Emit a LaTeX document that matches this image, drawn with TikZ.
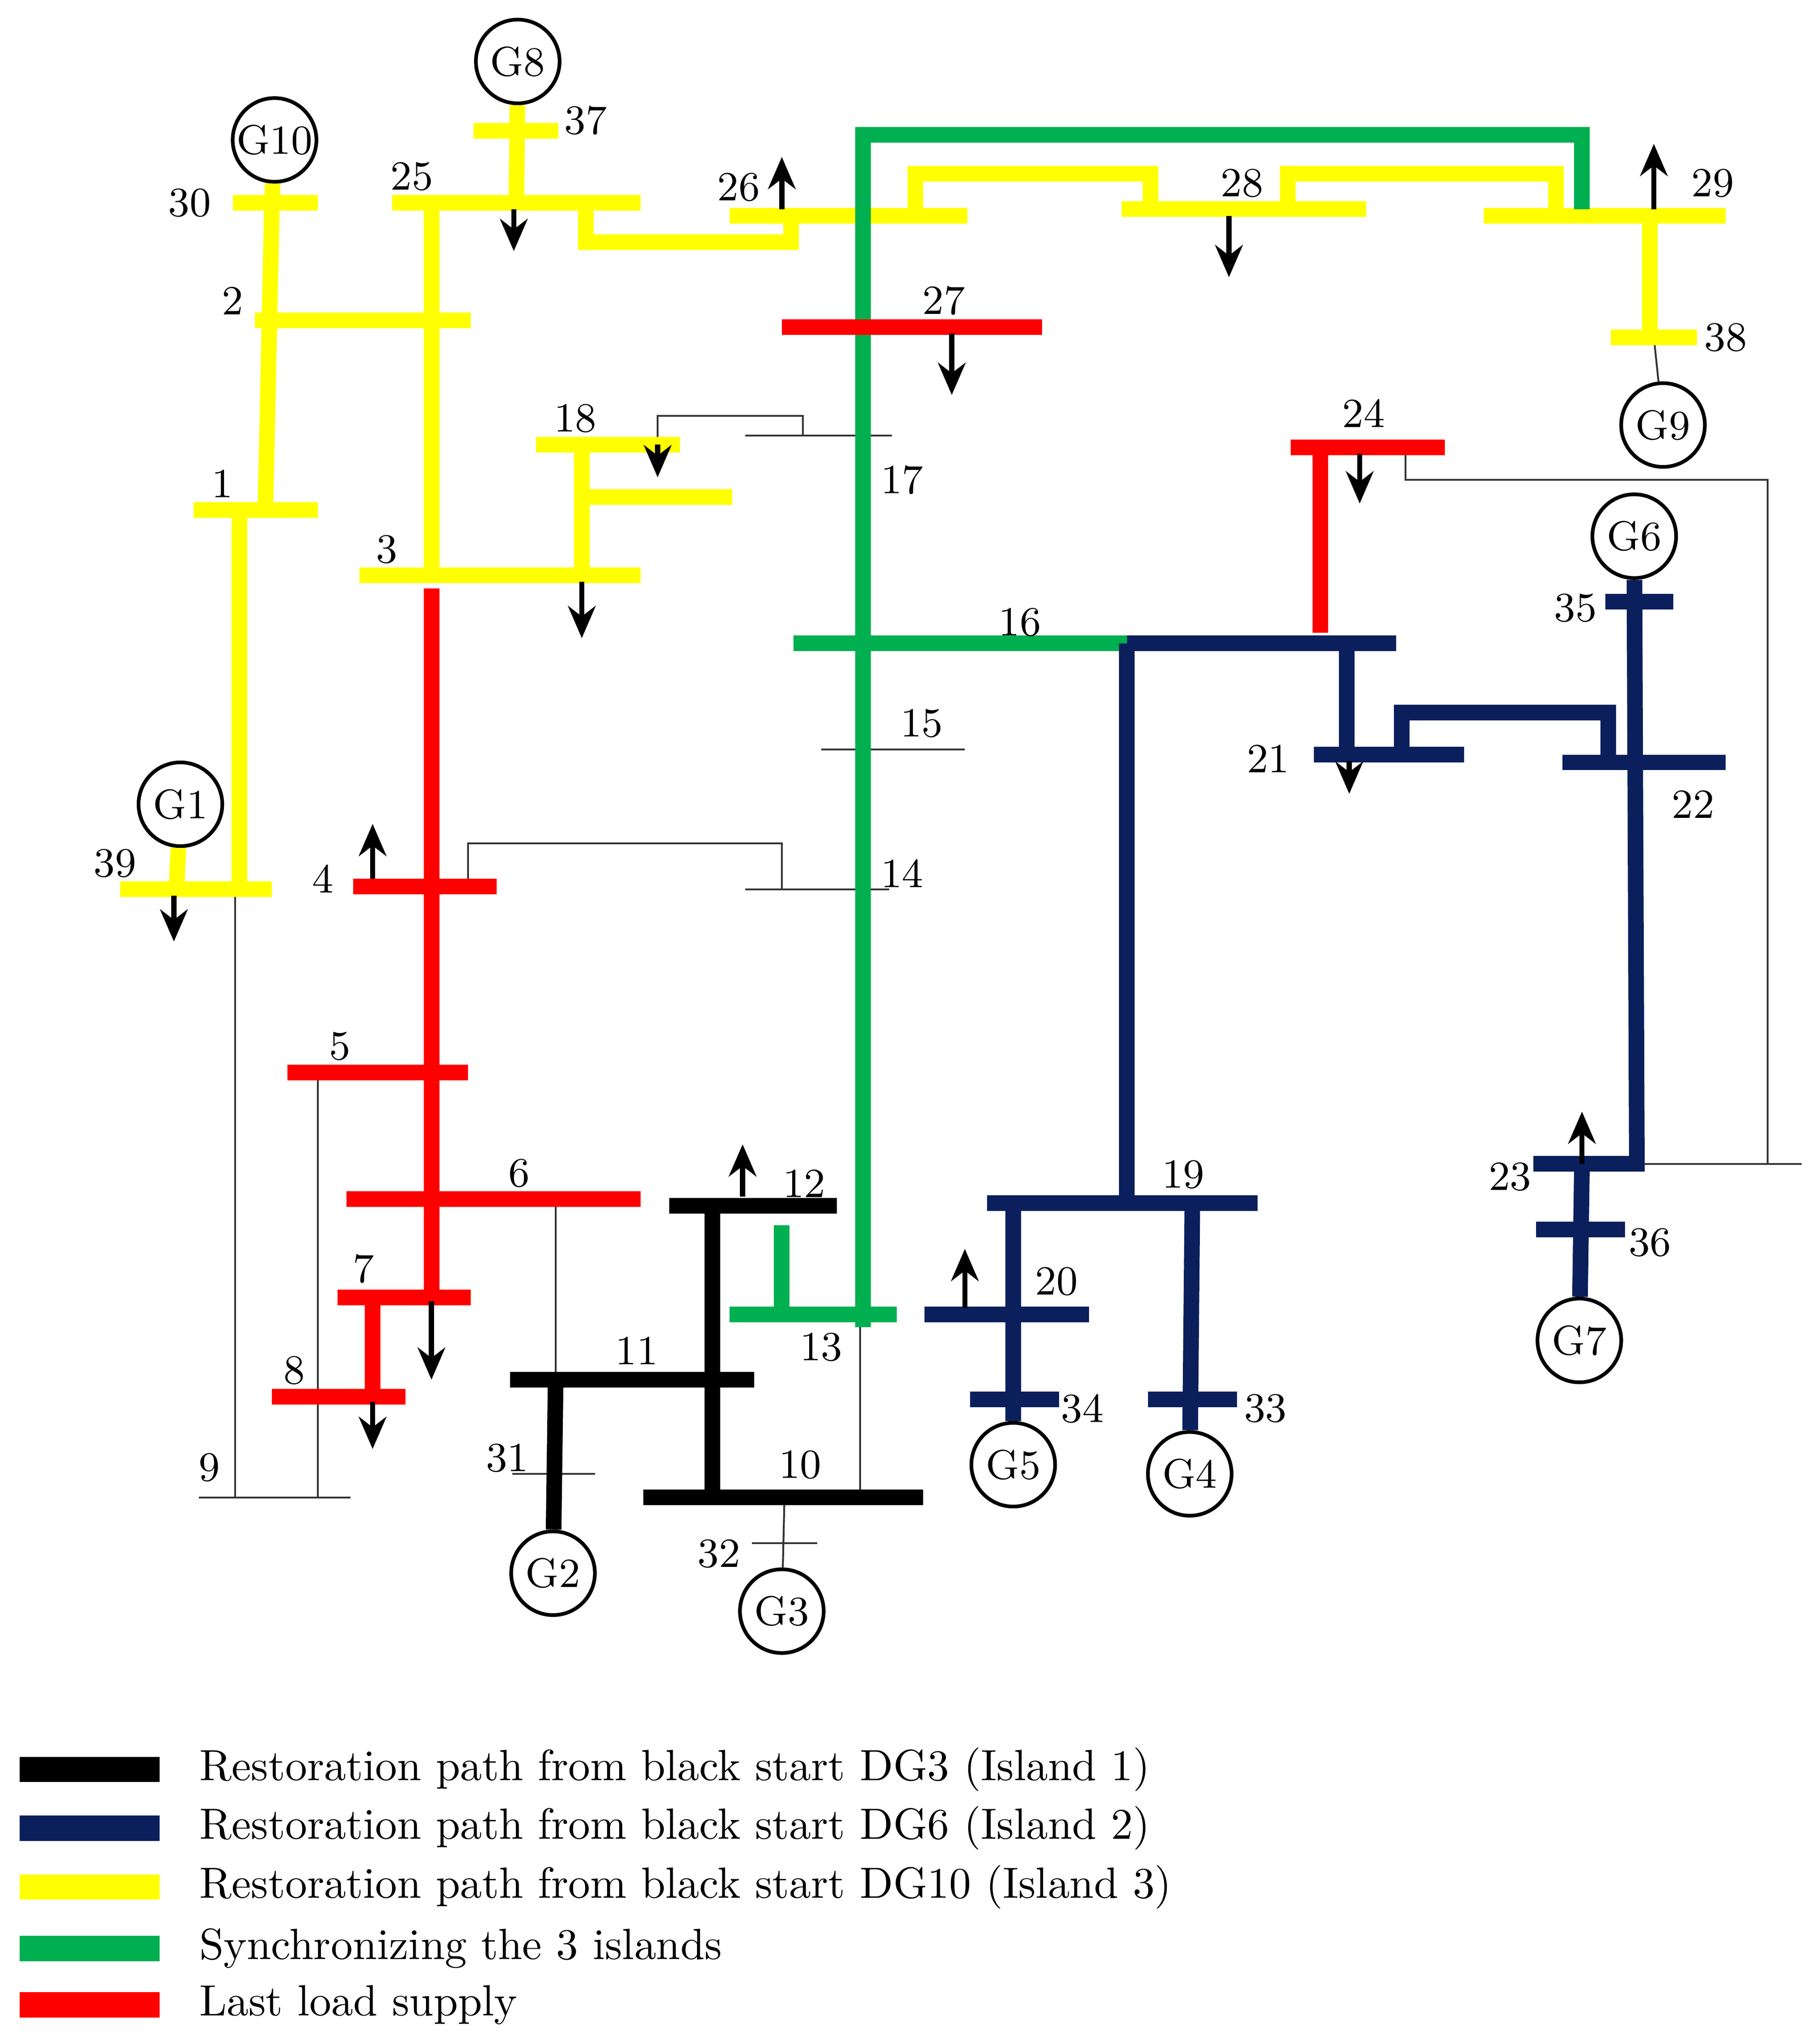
\documentclass[tikz,border=0pt]{standalone}
\usepackage{tikz}
\usetikzlibrary{positioning,arrows.meta}
\definecolor{ylw}{RGB}{255,255,0}
\definecolor{grn}{RGB}{0,176,80}
\definecolor{nvy}{RGB}{10,31,92}
\definecolor{rd}{RGB}{255,0,0}
\tikzset{
  bus/.style = {line width=3.4pt},
  Y/.style = {bus, draw=ylw},
  R/.style = {bus, draw=rd},
  N/.style = {bus, draw=nvy},
  K/.style = {bus, draw=black},
  Gr/.style = {bus, draw=grn},
  thin/.style = {line width=0.4pt, draw=black!80},
  load/.style = {-{Stealth[length=7pt,width=6pt]}, line width=1.1pt},
  gen/.style = {circle, draw, line width=0.8pt, minimum size=0.64cm, inner sep=0pt,
                font=\fontsize{9}{10}\selectfont},
  lbl/.style = {font=\fontsize{9}{10}\selectfont, inner sep=0pt},
  leg/.style = {font=\fontsize{9.5}{11}\selectfont, anchor=west, inner sep=0pt}
}
\begin{document}
\begin{tikzpicture}[x=0.01cm, y=-0.01cm]
\useasboundingbox (0,0) rectangle (1385,1563);
% generators
\node[gen] (G10) at (210,107) {G10};
\node[gen] (G8) at (396,47) {G8};
\node[gen] (G1) at (138,615) {G1};
\node[gen] (G9) at (1272,325) {G9};
\node[gen] (G6) at (1250,410) {G6};
\node[gen] (G7) at (1208,1025) {G7};
\node[gen] (G5) at (775,1120) {G5};
\node[gen] (G4) at (910,1127) {G4};
\node[gen] (G2) at (423,1203) {G2};
\node[gen] (G3) at (598,1232) {G3};
% thin lines
\draw[thin] (614,333) |- (503,318) -- (503,340);
\draw[thin] (570,333) -- (682,333);
\draw[thin] (628,573) -- (738,573);
\draw[thin] (570,680) -- (680,680);
\draw[thin] (598,680) |- (358,645) -- (358,680);
\draw[thin] (243,820) -- (243,1145);
\draw[thin] (180,680) -- (180,1145);
\draw[thin] (152,1145) -- (268,1145);
\draw[thin] (425,917) -- (425,1055);
\draw[thin] (658,1005) -- (658,1145);
\draw[thin] (392,1127) -- (455,1127);
\draw[thin] (600,1145) -- (G3);
\draw[thin] (575,1180) -- (625,1180);
\draw[thin] (1265,258) -- (G9);
\draw[thin] (1075,342) |- (1352,367) |- (1258,890);
\draw[thin] (1352,890) -- (1378,890);
% island 3 (yellow)
\draw[Y] (G10) -- (208,155);
\draw[Y] (178,155) -- (243,155);
\draw[Y] (208,155) -- (203,390);
\draw[Y] (195,245) -- (360,245);
\draw[Y] (148,390) -- (243,390);
\draw[Y] (183,390) -- (183,680);
\draw[Y] (92,680) -- (208,680);
\draw[Y] (G1) -- (135,680);
\draw[Y] (300,155) -- (490,155);
\draw[Y] (330,155) -- (330,440);
\draw[Y] (G8) -- (395,155);
\draw[Y] (362,100) -- (427,100);
\draw[Y] (275,440) -- (490,440);
\draw[Y] (445,440) -- (445,340);
\draw[Y] (410,340) -- (520,340);
\draw[Y] (445,380) -- (560,380);
\draw[Y] (448,155) |- (605,185) -- (605,165);
\draw[Y] (558,165) -- (740,165);
\draw[Y] (700,165) |- (880,133) -- (880,160);
\draw[Y] (858,160) -- (1045,160);
\draw[Y] (985,160) |- (1190,133) -- (1190,165);
\draw[Y] (1135,165) -- (1320,165);
\draw[Y] (1262,165) -- (1262,258);
\draw[Y] (1232,258) -- (1298,258);
% synchronizing (green)
\draw[Gr] (660,1015) -- (660,103) -- (1210,103) -- (1210,160);
\draw[Gr] (607,492) -- (862,492);
\draw[Gr] (598,937) -- (598,1000);
\draw[Gr] (558,1005) -- (686,1005);
% last load supply (red)
\draw[R] (598,250) -- (797,250);
\draw[R] (330,450) -- (330,992);
\draw[R] (270,678) -- (380,678);
\draw[R] (220,820) -- (358,820);
\draw[R] (265,917) -- (490,917);
\draw[R] (258,992) -- (360,992);
\draw[R] (285,992) -- (285,1068);
\draw[R] (208,1068) -- (310,1068);
\draw[R] (1010,342) -- (1010,484);
\draw[R] (987,342) -- (1105,342);
% island 1 (black)
\draw[K] (512,922) -- (640,922);
\draw[K] (545,922) -- (545,1145);
\draw[K] (390,1055) -- (577,1055);
\draw[K] (425,1055) -- (G2);
\draw[K] (492,1145) -- (706,1145);
% island 2 (navy)
\draw[N] (862,492) -- (1068,492);
\draw[N] (862,492) -- (862,920);
\draw[N] (755,920) -- (962,920);
\draw[N] (775,920) -- (G5);
\draw[N] (707,1005) -- (833,1005);
\draw[N] (742,1070) -- (810,1070);
\draw[N] (912,920) -- (G4);
\draw[N] (878,1070) -- (946,1070);
\draw[N] (1030,492) -- (1030,577);
\draw[N] (1005,577) -- (1120,577);
\draw[N] (1072,577) |- (1230,545) -- (1230,583);
\draw[N] (1195,583) -- (1320,583);
\draw[N] (G6) -- (1252,890);
\draw[N] (1228,460) -- (1280,460);
\draw[N] (1173,890) -- (1258,890);
\draw[N] (1210,890) -- (G7);
\draw[N] (1175,940) -- (1243,940);
% loads
\draw[load] (393,160) -- (393,192);
\draw[load] (598,160) -- (598,120);
\draw[load] (940,165) -- (940,212);
\draw[load] (1265,160) -- (1265,110);
\draw[load] (728,255) -- (728,302);
\draw[load] (503,340) -- (503,365);
\draw[load] (445,445) -- (445,488);
\draw[load] (133,685) -- (133,720);
\draw[load] (285,672) -- (285,630);
\draw[load] (330,995) -- (330,1055);
\draw[load] (285,1072) -- (285,1108);
\draw[load] (568,915) -- (568,875);
\draw[load] (738,1000) -- (738,955);
\draw[load] (1040,347) -- (1040,385);
\draw[load] (1032,582) -- (1032,607);
\draw[load] (1210,890) -- (1210,850);
% bus numbers
\foreach \n/\x/\y in {30/145/155, 2/178/230, 25/315/135, 37/448/92, 1/170/370,
  39/88/660, 3/296/420, 18/440/320, 26/565/143, 28/950/140, 29/1310/140,
  38/1320/258, 27/722/230, 17/690/367, 16/780/476, 15/705/553, 14/690/668,
  4/247/672, 5/260/800, 6/397/897, 7/278/970, 8/225/1048, 9/160/1122,
  11/487/1033, 12/615/905, 13/628/1030, 10/612/1120, 31/388/1115, 32/550/1188,
  19/905/898, 20/808/980, 34/828/1077, 33/968/1077, 24/1043/316, 21/970/580,
  22/1295/615, 35/1205/465, 23/1155/900, 36/1262/950}
  \node[lbl] (b\n) at (\x,\y) {\n};
% legend
\foreach \c/\y/\t in {K/1353/{Restoration path from black start DG3 (Island 1)},
  N/1398/{Restoration path from black start DG6 (Island 2)},
  Y/1443/{Restoration path from black start DG10 (Island 3)},
  Gr/1490/{Synchronizing the 3 islands},
  R/1533/{Last load supply}}
{
  \draw[\c, line width=5.5pt] (15,\y) -- (122,\y);
  \node[leg] at (152,\y) {\t};
}
\end{tikzpicture}
\end{document}
